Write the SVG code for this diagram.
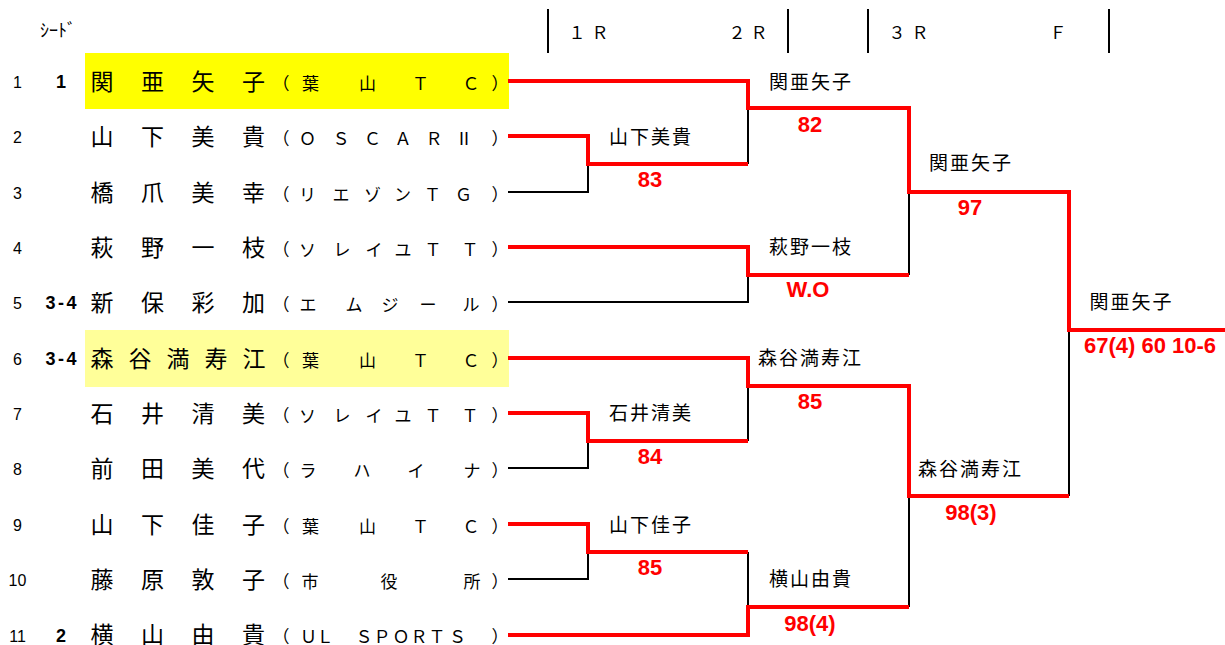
<svg xmlns="http://www.w3.org/2000/svg" width="1225" height="645" viewBox="0 0 1225 645">
<style>
.nm{font-family:'Noto Sans CJK JP',sans-serif;font-size:23px;fill:#000;text-anchor:middle}
.cl{font-family:'Noto Sans CJK JP',sans-serif;font-size:17px;fill:#000;text-anchor:middle}
.no{font-family:'Liberation Sans',sans-serif;font-size:16px;fill:#000;text-anchor:middle}
.sd{font-family:'Liberation Sans',sans-serif;font-size:18px;font-weight:bold;fill:#000;text-anchor:middle}
.wn{font-family:'Noto Sans CJK JP',sans-serif;font-size:19px;letter-spacing:2px;fill:#000;text-anchor:middle}
.sc{font-family:'Liberation Sans',sans-serif;font-size:22px;font-weight:bold;fill:#f00;text-anchor:middle}
.hd{font-family:'Noto Sans CJK JP',sans-serif;font-size:17px;fill:#000;text-anchor:middle}
.r{fill:none;stroke:#f00;stroke-width:4;stroke-linejoin:miter}
.k{fill:none;stroke:#000;stroke-width:2}
.hl{stroke:#000;stroke-width:2}
</style>
<rect width="1225" height="645" fill="#fff"/>
<g id="header">
<text x="40" y="37" style="font-family:'Noto Sans CJK JP',sans-serif;font-size:18px">ｼｰﾄﾞ</text>
<line class="hl" x1="548" y1="9" x2="548" y2="53"/>
<line class="hl" x1="788" y1="9" x2="788" y2="53"/>
<line class="hl" x1="868" y1="9" x2="868" y2="53"/>
<line class="hl" x1="1109" y1="9" x2="1109" y2="53"/>
<text class="hd" x="577 600" y="39">１Ｒ</text>
<text class="hd" x="737 759" y="39">２Ｒ</text>
<text class="hd" x="897 920" y="39">３Ｒ</text>
<text class="hd" x="1058" y="39">Ｆ</text>
</g>
<g id="p1">
<rect x="85" y="53" width="424" height="56" fill="#ffff00"/>
<text class="no" x="17.5" y="88">1</text><text class="sd" x="61" y="88">1</text>
<text class="nm" x="102 152.5 203 253.5" y="89.5">関亜矢子</text>
<text class="cl" x="281 310.5 367.5 420.5 471 500" y="89.5">（葉山ＴＣ）</text>
</g>
<g id="p2">
<text class="no" x="17.5" y="143">2</text>
<text class="nm" x="102 152.5 203 253.5" y="144.5">山下美貴</text>
<text class="cl" x="281 307.5 341 372.5 403 434 464 500" y="144.5">（ＯＳＣＡＲⅡ）</text>
</g>
<g id="p3">
<text class="no" x="17.5" y="199">3</text>
<text class="nm" x="102 152.5 203 253.5" y="200.5">橋爪美幸</text>
<text class="cl" x="281 307.5 341 372.5 402.5 432.5 463.5 500" y="200.5">（リエゾンＴＧ）</text>
</g>
<g id="p4">
<text class="no" x="17.5" y="254">4</text>
<text class="nm" x="102 152.5 203 253.5" y="255.5">萩野一枝</text>
<text class="cl" x="281 307.5 342 374 403 433 470 500" y="255.5">（ソレイユＴＴ）</text>
</g>
<g id="p5">
<text class="no" x="17.5" y="309">5</text><text class="sd" x="61" y="309" textLength="31" lengthAdjust="spacing">3-4</text>
<text class="nm" x="102 152.5 203 253.5" y="310.5">新保彩加</text>
<text class="cl" x="281 308 354 390 428 471 500" y="310.5">（エムジール）</text>
</g>
<g id="p6">
<rect x="85" y="330" width="424" height="57" fill="#ffff99"/>
<text class="no" x="17.5" y="365">6</text><text class="sd" x="61" y="365" textLength="31" lengthAdjust="spacing">3-4</text>
<text class="nm" x="102 140 178 216 254" y="366.5">森谷満寿江</text>
<text class="cl" x="281 310.5 367.5 420.5 471 500" y="366.5">（葉山ＴＣ）</text>
</g>
<g id="p7">
<text class="no" x="17.5" y="420">7</text>
<text class="nm" x="102 152.5 203 253.5" y="421.5">石井清美</text>
<text class="cl" x="281 307.5 342 374 403 433 470 500" y="421.5">（ソレイユＴＴ）</text>
</g>
<g id="p8">
<text class="no" x="17.5" y="475">8</text>
<text class="nm" x="102 152.5 203 253.5" y="476.5">前田美代</text>
<text class="cl" x="281 308 362 416 472 500" y="476.5">（ラハイナ）</text>
</g>
<g id="p9">
<text class="no" x="17.5" y="531">9</text>
<text class="nm" x="102 152.5 203 253.5" y="532.5">山下佳子</text>
<text class="cl" x="281 310.5 367.5 420.5 471 500" y="532.5">（葉山ＴＣ）</text>
</g>
<g id="p10">
<text class="no" x="17.5" y="586">10</text>
<text class="nm" x="102 152.5 203 253.5" y="587.5">藤原敦子</text>
<text class="cl" x="281 310 389 472 500" y="587.5">（市役所）</text>
</g>
<g id="p11">
<text class="no" x="17.5" y="642">11</text><text class="sd" x="61" y="642">2</text>
<text class="nm" x="102 152.5 203 253.5" y="643">横山由貴</text>
<text class="cl" x="281 308.5 325 345 364 382 401 419 437 457.5 500" y="642.5">（ＵＬ ＳＰＯＲＴＳ）</text>
</g>
<g id="connectors">
<polyline class="k" points="748,108 748,164"/>
<polyline class="k" points="508,192 588,192 588,164"/>
<polyline class="k" points="909,192 909,275"/>
<polyline class="k" points="508,302 748,302 748,275"/>
<polyline class="k" points="1069,330 1069,496"/>
<polyline class="k" points="748,386 748,441"/>
<polyline class="k" points="508,468 588,468 588,441"/>
<polyline class="k" points="748,552 748,607"/>
<polyline class="k" points="508,579 588,579 588,552"/>
<polyline class="k" points="909,496 909,607"/>
<polyline class="r" points="508,81 748,81 748,108 909,108 909,192 1069,192 1069,330 1225,330"/>
<polyline class="r" points="508,136 588,136 588,164 748,164"/>
<polyline class="r" points="508,247 748,247 748,275 909,275"/>
<polyline class="r" points="508,358 748,358 748,386 909,386 909,496 1069,496"/>
<polyline class="r" points="508,413 588,413 588,441 748,441"/>
<polyline class="r" points="508,524 588,524 588,552 748,552"/>
<polyline class="r" points="508,635 748,635 748,607 909,607"/>
</g>
<g id="results">
<text class="wn" x="651" y="143.7">山下美貴</text>
<text class="sc" x="650" y="187">83</text>
<text class="wn" x="811" y="88.7">関亜矢子</text>
<text class="sc" x="810" y="132">82</text>
<text class="wn" x="811" y="253.7">萩野一枝</text>
<text class="sc" x="808" y="297">W.O</text>
<text class="wn" x="971" y="170">関亜矢子</text>
<text class="sc" x="970" y="215">97</text>
<text class="wn" x="810.5" y="365">森谷満寿江</text>
<text class="sc" x="810" y="409">85</text>
<text class="wn" x="651" y="420">石井清美</text>
<text class="sc" x="650" y="464">84</text>
<text class="wn" x="651" y="532">山下佳子</text>
<text class="sc" x="650" y="575">85</text>
<text class="wn" x="811" y="586">横山由貴</text>
<text class="sc" x="810" y="631">98(4)</text>
<text class="wn" x="970.5" y="475.7">森谷満寿江</text>
<text class="sc" x="971" y="520">98(3)</text>
<text class="wn" x="1131.5" y="309">関亜矢子</text>
<text class="sc" x="1150" y="353">67(4) 60 10-6</text>
</g>
</svg>
